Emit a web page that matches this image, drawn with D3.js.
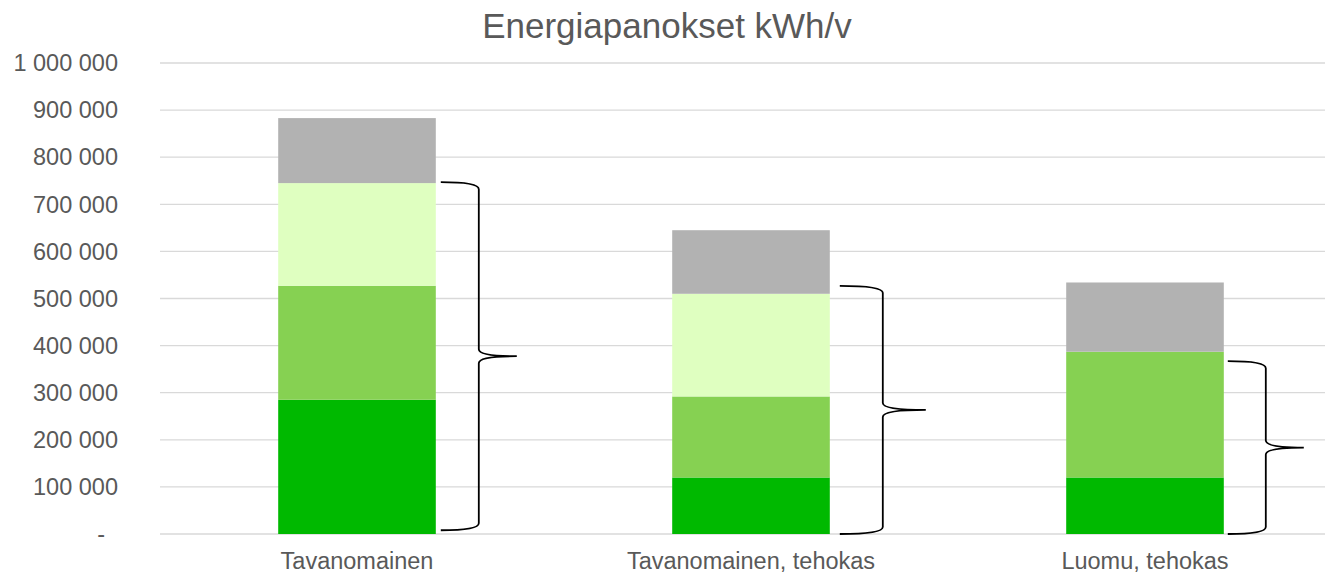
<!DOCTYPE html>
<html>
<head>
<meta charset="utf-8">
<script src="https://cdn.jsdelivr.net/npm/d3@7"></script>
<style>
  html, body { margin: 0; padding: 0; background: #fff; }
  svg { display: block; overflow: hidden; }
  text { font-family: "Liberation Sans", Arial, sans-serif; fill: #595959; }
</style>
</head>
<body>
<svg id="chart" width="1325" height="577"></svg>
<script>
const categories = ['Tavanomainen', 'Tavanomainen, tehokas', 'Luomu, tehokas'];
const seriesKeys = ['sarja1', 'sarja2', 'sarja3', 'sarja4'];
const sarja1 = [285000, 120000, 120000];
const sarja2 = [242000, 172000, 267000];
const sarja3 = [218000, 218000, 0];
const sarja4 = [138000, 135000, 147000];
const yTicks = [0, 100000, 200000, 300000, 400000, 500000, 600000, 700000, 800000, 900000, 1000000];
const title = 'Energiapanokset kWh/v';

// brace annotations (kWh span on the y axis)
const braceLow = [8000, 0, 0];
const braceHigh = [747000, 527000, 367000];

const colors = ['#00b900', '#86d152', '#dfffc0', '#b2b2b2'];

const rows = categories.map((c, i) => ({
  cat: c,
  sarja1: sarja1[i],
  sarja2: sarja2[i],
  sarja3: sarja3[i],
  sarja4: sarja4[i],
}));

const svg = d3.select('#chart');

const xScale = d3.scaleBand()
  .domain(categories)
  .range([160, 1342])
  .paddingInner(0.6)
  .paddingOuter(0.3);

const yScale = d3.scaleLinear()
  .domain([0, 1000000])
  .range([534, 63]);

const keyScale = d3.scaleOrdinal()
  .domain(seriesKeys)
  .range(colors);

const stack = d3.stack().keys(seriesKeys)(rows);

// gridlines
svg.append('g')
  .selectAll('line')
  .data(yTicks)
  .enter()
  .append('line')
  .attr('x1', 160)
  .attr('x2', 1325)
  .attr('y1', (d) => yScale(d))
  .attr('y2', (d) => yScale(d))
  .attr('stroke', '#d9d9d9')
  .attr('stroke-width', 1.3);

// y labels
const fmt = (d) => (d === 0 ? '-' : d3.format(',')(d).replace(/,/g, ' '));
svg.append('g')
  .selectAll('text')
  .data(yTicks)
  .enter()
  .append('text')
  .attr('x', (d) => (d === 0 ? 105 : 118))
  .attr('y', (d) => yScale(d))
  .attr('dy', '0.35em')
  .attr('text-anchor', 'end')
  .style('font-size', '23.5px')
  .text(fmt);

// stacked bars
svg.append('g')
  .selectAll('g')
  .data(stack)
  .enter()
  .append('g')
  .attr('fill', (s) => keyScale(s.key))
  .selectAll('rect')
  .data((s) => s.filter((d) => d[1] - d[0] > 0))
  .enter()
  .append('rect')
  .attr('x', ({ data }) => xScale(data.cat))
  .attr('y', (d) => yScale(d[1]))
  .attr('height', (d) => yScale(d[0]) - yScale(d[1]))
  .attr('width', xScale.bandwidth());

// braces
const braceGap = [5, 10, 4];
const braceHalf = [38, 43, 38];
const bracePath = (i) => {
  const x0 = xScale(categories[i]) + xScale.bandwidth() + braceGap[i];
  const xv = x0 + braceHalf[i];
  const xt = xv + braceHalf[i];
  const y0 = yScale(braceHigh[i]);
  const y1 = yScale(braceLow[i]);
  const ym = (y0 + y1) / 2;
  const r = 7;
  return `M${x0},${y0} Q${xv},${y0} ${xv},${y0 + r}`
    + ` L${xv},${ym - r} Q${xv},${ym} ${xt},${ym}`
    + ` Q${xv},${ym} ${xv},${ym + r}`
    + ` L${xv},${y1 - r} Q${xv},${y1} ${x0},${y1}`;
};
svg.append('g')
  .selectAll('path')
  .data(categories)
  .enter()
  .append('path')
  .attr('d', (c, i) => bracePath(i))
  .attr('fill', 'none')
  .attr('stroke', '#000')
  .attr('stroke-width', 1.8);

// x labels
svg.append('g')
  .selectAll('text')
  .data(categories)
  .enter()
  .append('text')
  .attr('x', (c) => xScale(c) + xScale.bandwidth() / 2)
  .attr('y', 569)
  .attr('text-anchor', 'middle')
  .style('font-size', '23.5px')
  .text((c) => c);

svg.append('text')
  .attr('x', 667)
  .attr('y', 37.5)
  .attr('text-anchor', 'middle')
  .style('font-size', '35px')
  .text(title);
</script>
</body>
</html>
